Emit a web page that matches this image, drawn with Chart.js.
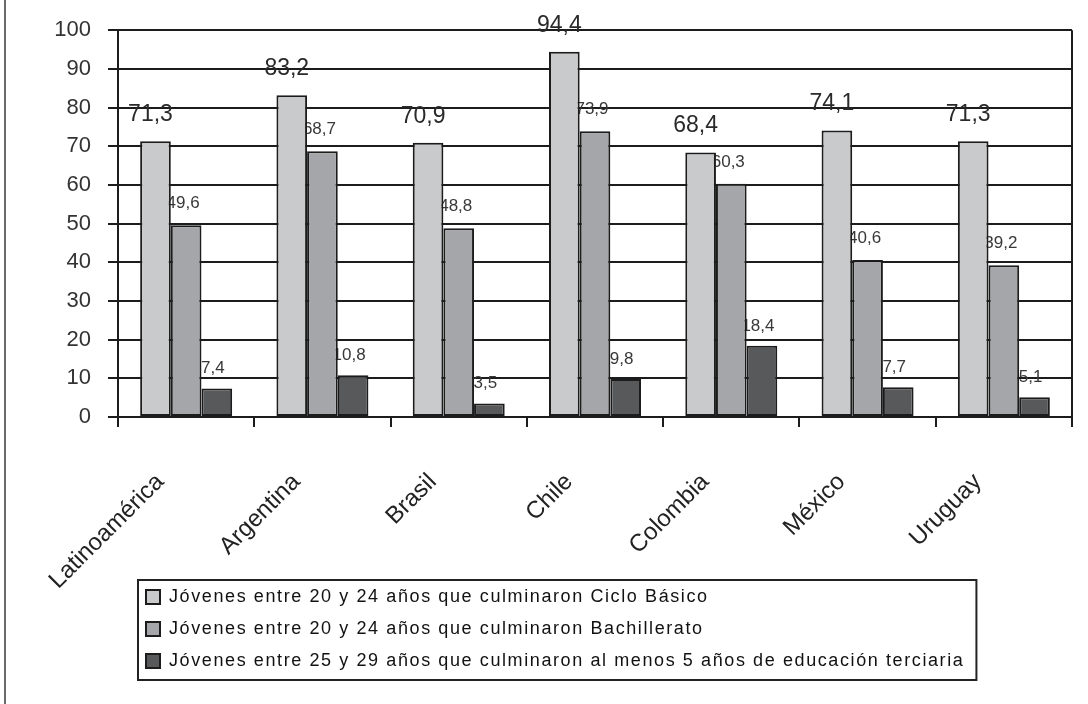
<!DOCTYPE html>
<html>
<head>
<meta charset="utf-8">
<script src="https://cdn.jsdelivr.net/npm/chart.js@4.4.1/dist/chart.umd.min.js"></script>
<style>
  html, body { margin: 0; padding: 0; background: #ffffff; }
  #wrap { position: relative; width: 1088px; height: 704px; background: #ffffff; }
  #wrap::before { content: ''; position: absolute; left: 4px; top: 0; bottom: 0; border-left: 2px solid #6a6a6a; }
  canvas { position: absolute; left: 0; top: 0; }
</style>
</head>
<body>
<div id="wrap"><canvas id="c" width="1088" height="704"></canvas></div>
<script>
// ---- Data ----
const categories = ['Latinoamérica', 'Argentina', 'Brasil', 'Chile', 'Colombia', 'México', 'Uruguay'];
const seriesNames = [
  'Jóvenes entre 20 y 24 años que culminaron Ciclo Básico',
  'Jóvenes entre 20 y 24 años que culminaron Bachillerato',
  'Jóvenes entre 25 y 29 años que culminaron al menos 5 años de educación terciaria'
];
const cicloBasico  = [71.3, 83.2, 70.9, 94.4, 68.4, 74.1, 71.3];
const bachillerato = [49.6, 68.7, 48.8, 73.9, 60.3, 40.6, 39.2];
const terciaria    = [7.4, 10.8, 3.5, 9.8, 18.4, 7.7, 5.1];
const yMin = 0, yMax = 100, yStep = 10;

// ---- Styles ----
const FONT = '"Liberation Sans", Arial, Helvetica, sans-serif';
const barColors = ['#c9cacc', '#a4a6a9', '#58595b'];
const lineColor = '#1c1c1c';
const labelStyles = [
  { size: 23, dx: -5, dy: -20, color: '#2a2a2a' },
  { size: 17, dx: -3, dy: -17, color: '#383838' },
  { size: 17, dx: -4, dy: -15, color: '#383838' }
];
const LEGEND_PAD = 14;
const LEGEND_FONT = 18;
const LEGEND_BOX = 14;
const LEGEND_SPACING = '1.6px';
const X_AXIS_HEIGHT = 181;
const LEGEND_LIFT = 24;

const valueLabels = {
  id: 'valueLabels',
  beforeDatasetsDraw(chart) {
    const ctx = chart.ctx;
    ctx.letterSpacing = '0px';
    chart.data.datasets.forEach((ds, di) => {
      const meta = chart.getDatasetMeta(di);
      const st = labelStyles[di];
      ctx.save();
      ctx.font = st.size + 'px ' + FONT;
      ctx.fillStyle = st.color;
      ctx.textAlign = 'center';
      ctx.textBaseline = 'alphabetic';
      meta.data.forEach((bar, i) => {
        const v = ds.data[i];
        const txt = v.toFixed(1).replace('.', ',');
        ctx.fillText(txt, bar.x + st.dx, bar.y + st.dy);
      });
      ctx.restore();
    });
  }
};

const legendTweaks = {
  id: 'legendTweaks',
  beforeLayout(chart) { chart.ctx.letterSpacing = LEGEND_SPACING; },
  afterLayout(chart) {
    chart.ctx.letterSpacing = '0px';
    const lg = chart.legend;
    if (lg) {
      lg.left += LEGEND_PAD; lg.right += LEGEND_PAD;
      lg.top -= LEGEND_LIFT; lg.bottom -= LEGEND_LIFT;
    }
  },
  beforeDraw(chart) { chart.ctx.letterSpacing = LEGEND_SPACING; },
  afterDraw(chart) {
    const lg = chart.legend;
    if (!lg) return;
    const ctx = chart.ctx;
    ctx.save();
    ctx.font = LEGEND_FONT + 'px ' + FONT;
    ctx.letterSpacing = LEGEND_SPACING;
    let maxW = 0;
    lg.legendItems.forEach(it => { maxW = Math.max(maxW, ctx.measureText(it.text).width); });
    const left = lg.left + 6;
    const top = lg.top + 6;
    const right = lg.left + LEGEND_PAD + LEGEND_BOX + LEGEND_FONT / 2 + maxW + 12;
    const bottom = lg.bottom;
    ctx.letterSpacing = '0px';
    ctx.strokeStyle = '#222222';
    ctx.lineWidth = 2;
    ctx.strokeRect(left, top, right - left, bottom - top);
    ctx.restore();
  }
};

new Chart(document.getElementById('c'), {
  type: 'bar',
  data: {
    labels: categories,
    datasets: [
      { label: seriesNames[0], data: cicloBasico,  backgroundColor: barColors[0], borderColor: lineColor, borderWidth: 2, borderSkipped: false },
      { label: seriesNames[1], data: bachillerato, backgroundColor: barColors[1], borderColor: lineColor, borderWidth: 2, borderSkipped: false },
      { label: seriesNames[2], data: terciaria,    backgroundColor: barColors[2], borderColor: lineColor, borderWidth: 2, borderSkipped: false }
    ]
  },
  options: {
    responsive: false,
    animation: false,
    devicePixelRatio: 1,
    categoryPercentage: 0.675,
    barPercentage: 1.0,
    layout: { padding: { left: 0, right: 16, top: 30, bottom: 0 } },
    plugins: {
      tooltip: { enabled: false },
      legend: {
        position: 'bottom',
        align: 'start',
        fullSize: false,
        labels: {
          boxWidth: LEGEND_BOX,
          boxHeight: LEGEND_BOX,
          padding: LEGEND_PAD,
          color: '#111111',
          font: { family: FONT, size: LEGEND_FONT }
        }
      }
    },
    scales: {
      x: {
        offset: true,
        grid: {
          offset: true,
          drawOnChartArea: true,
          color: (c) => (c.type === 'tick' ? 'rgba(0,0,0,0)' : lineColor),
          tickColor: lineColor,
          lineWidth: 2,
          tickLength: 10
        },
        border: { color: lineColor, width: 2 },
        ticks: {
          z: 1,
          autoSkip: false,
          minRotation: 45,
          maxRotation: 45,
          labelOffset: -26,
          padding: 41,
          color: '#222222',
          font: { family: FONT, size: 24 }
        },
        afterFit(scale) { scale.height = X_AXIS_HEIGHT; }
      },
      y: {
        min: yMin,
        max: yMax,
        grid: { color: lineColor, lineWidth: 2, tickLength: 10 },
        border: { color: lineColor, width: 2 },
        ticks: {
          z: 1,
          stepSize: yStep,
          padding: 17,
          color: '#333333',
          font: { family: FONT, size: 22 }
        },
        afterFit(scale) { scale.width = 118; }
      }
    }
  },
  plugins: [valueLabels, legendTweaks]
});
</script>
</body>
</html>
